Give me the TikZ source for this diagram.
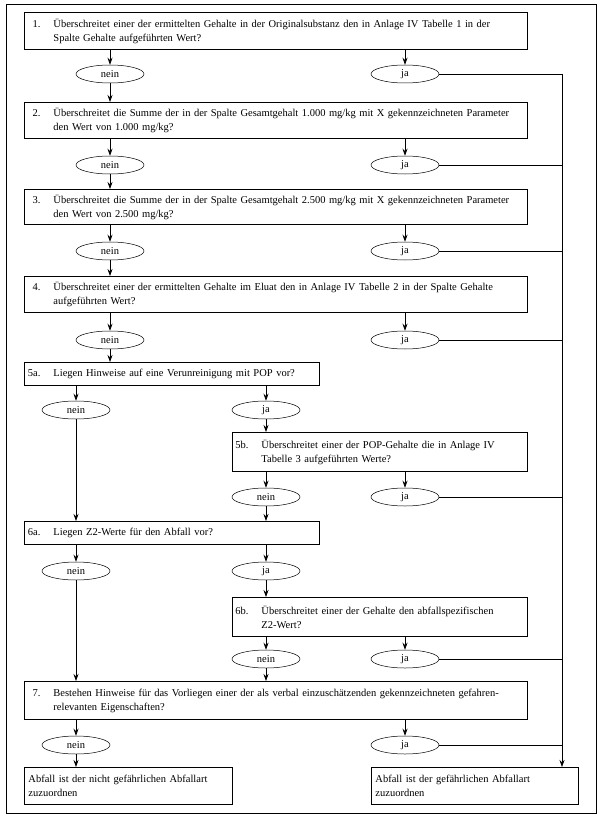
\documentclass[tikz,border=0pt]{standalone}
\usepackage{fontspec}
\setmainfont{Liberation Serif}
\usetikzlibrary{shapes.geometric,arrows.meta}
\newcommand{\lbl}[1]{\makebox[25pt][l]{\makebox[12pt][r]{#1}}}
\newcommand{\ind}{\hspace*{25pt}}
\begin{document}
\begin{tikzpicture}[x=1pt,y=-1pt,
  every node/.style={font=\fontsize{10.5}{14}\selectfont},
  qbox/.style={draw,line width=0.9pt,anchor=north west,inner sep=4pt,align=left},
  oval/.style={draw,ellipse,line width=0.5pt,minimum width=68pt,minimum height=18pt,inner sep=0pt},
  arr/.style={line width=0.7pt,-{Stealth[length=7pt,width=5pt]}},
  ln/.style={line width=0.7pt}]
\useasboundingbox (0,0) rectangle (601,824);
\draw[line width=1pt] (6,5) rectangle (596,813);
% boxes
\node[qbox,minimum width=503pt,minimum height=37pt,text width=495pt] (b1) at (24,12)
 {\lbl{1.}Überschreitet einer der ermittelten Gehalte in der Originalsubstanz den in Anlage IV Tabelle 1 in der\\\ind Spalte Gehalte aufgeführten Wert?};
\node[qbox,minimum width=503pt,minimum height=36pt,text width=495pt] (b2) at (24,102)
 {\lbl{2.}Überschreitet die Summe der in der Spalte Gesamtgehalt 1.000 mg/kg mit X gekennzeichneten Parameter\\\ind den Wert von 1.000 mg/kg?};
\node[qbox,minimum width=503pt,minimum height=35pt,text width=495pt] (b3) at (24,189)
 {\lbl{3.}Überschreitet die Summe der in der Spalte Gesamtgehalt 2.500 mg/kg mit X gekennzeichneten Parameter\\\ind den Wert von 2.500 mg/kg?};
\node[qbox,minimum width=503pt,minimum height=36pt,text width=495pt] (b4) at (24,276)
 {\lbl{4.}Überschreitet einer der ermittelten Gehalte im Eluat den in Anlage IV Tabelle 2 in der Spalte Gehalte\\\ind aufgeführten Wert?};
\node[qbox,minimum width=295pt,minimum height=23pt,text width=287pt] (b5a) at (24,362)
 {\lbl{5a.}Liegen Hinweise auf eine Verunreinigung mit POP vor?};
\node[qbox,minimum width=295pt,minimum height=39pt,text width=287pt] (b5b) at (232,432)
 {\lbl{5b.}Überschreitet einer der POP-Gehalte die in Anlage IV\\\ind Tabelle 3 aufgeführten Werte?};
\node[qbox,minimum width=295pt,minimum height=23pt,text width=287pt] (b6a) at (24,521)
 {\lbl{6a.}Liegen Z2-Werte für den Abfall vor?};
\node[qbox,minimum width=295pt,minimum height=39pt,text width=287pt] (b6b) at (232,597)
 {\lbl{6b.}Überschreitet einer der Gehalte den abfallspezifischen\\\ind Z2-Wert?};
\node[qbox,minimum width=503pt,minimum height=38pt,text width=495pt] (b7) at (24,681)
 {\lbl{7.}Bestehen Hinweise für das Vorliegen einer der als verbal einzuschätzenden gekennzeichneten gefahren-\\\ind relevanten Eigenschaften?};
\node[qbox,minimum width=208pt,minimum height=37pt,text width=200pt] (fl) at (24,767)
 {Abfall ist der nicht gefährlichen Abfallart\\zuzuordnen};
\node[qbox,minimum width=207pt,minimum height=37pt,text width=199pt] (fr) at (371,767)
 {Abfall ist der gefährlichen Abfallart\\zuzuordnen};
% ovals
\node[oval] (e1n) at (110,74) {nein};
\node[oval] (e1j) at (405,74) {ja};
\node[oval] (e2n) at (110,165) {nein};
\node[oval] (e2j) at (405,165) {ja};
\node[oval] (e3n) at (110,251) {nein};
\node[oval] (e3j) at (405,251) {ja};
\node[oval] (e4n) at (110,340) {nein};
\node[oval] (e4j) at (405,340) {ja};
\node[oval] (e5an) at (76,410) {nein};
\node[oval] (e5aj) at (266,410) {ja};
\node[oval] (e5bn) at (266,497) {nein};
\node[oval] (e5bj) at (405,497) {ja};
\node[oval] (e6an) at (76,571) {nein};
\node[oval] (e6aj) at (266,571) {ja};
\node[oval] (e6bn) at (266,659) {nein};
\node[oval] (e6bj) at (405,659) {ja};
\node[oval] (e7n) at (76,745) {nein};
\node[oval] (e7j) at (405,745) {ja};
\coordinate (rt) at (562,74);
% arrows
\draw[arr] (e1n |- b1.south) -- (e1n.north);
\draw[arr] (e1j |- b1.south) -- (e1j.north);
\draw[arr] (e1n.south) -- (e1n |- b2.north);
\draw[arr] (e2n |- b2.south) -- (e2n.north);
\draw[arr] (e2j |- b2.south) -- (e2j.north);
\draw[arr] (e2n.south) -- (e2n |- b3.north);
\draw[arr] (e3n |- b3.south) -- (e3n.north);
\draw[arr] (e3j |- b3.south) -- (e3j.north);
\draw[arr] (e3n.south) -- (e3n |- b4.north);
\draw[arr] (e4n |- b4.south) -- (e4n.north);
\draw[arr] (e4j |- b4.south) -- (e4j.north);
\draw[arr] (e4n.south) -- (e4n |- b5a.north);
\draw[arr] (e5an |- b5a.south) -- (e5an.north);
\draw[arr] (e5aj |- b5a.south) -- (e5aj.north);
\draw[arr] (e5aj.south) -- (e5aj |- b5b.north);
\draw[arr] (e5bn |- b5b.south) -- (e5bn.north);
\draw[arr] (e5bj |- b5b.south) -- (e5bj.north);
\draw[arr] (e5an.south) -- (e5an |- b6a.north);
\draw[arr] (e5bn.south) -- (e5bn |- b6a.north);
\draw[arr] (e6an |- b6a.south) -- (e6an.north);
\draw[arr] (e6aj |- b6a.south) -- (e6aj.north);
\draw[arr] (e6aj.south) -- (e6aj |- b6b.north);
\draw[arr] (e6bn |- b6b.south) -- (e6bn.north);
\draw[arr] (e6bj |- b6b.south) -- (e6bj.north);
\draw[arr] (e6an.south) -- (e6an |- b7.north);
\draw[arr] (e6bn.south) -- (e6bn |- b7.north);
\draw[arr] (e7n |- b7.south) -- (e7n.north);
\draw[arr] (e7j |- b7.south) -- (e7j.north);
\draw[arr] (e7n.south) -- (e7n |- fl.north);
% ja lines to the right
\draw[ln] (e1j.east) -- (rt);
\draw[ln] (e2j.east) -- (e2j.east -| rt);
\draw[ln] (e3j.east) -- (e3j.east -| rt);
\draw[ln] (e4j.east) -- (e4j.east -| rt);
\draw[ln] (e5bj.east) -- (e5bj.east -| rt);
\draw[ln] (e6bj.east) -- (e6bj.east -| rt);
\draw[ln] (e7j.east) -- (e7j.east -| rt);
\draw[arr] (rt) -- (rt |- fr.north);
\end{tikzpicture}
\end{document}
